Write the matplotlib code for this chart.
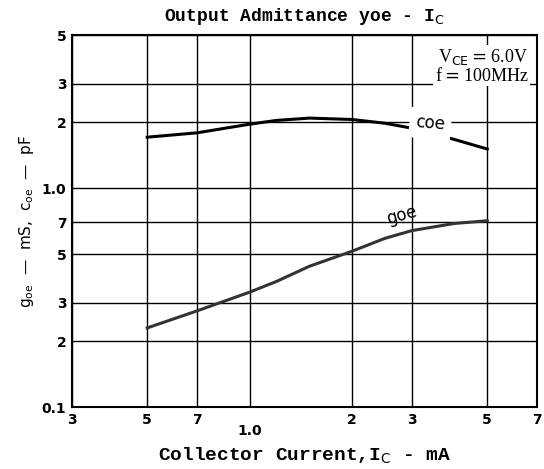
import matplotlib.pyplot as plt
from matplotlib.ticker import NullLocator

# collector current (mA) and curve values
ic = [0.5, 0.7, 1.0, 1.2, 1.5, 2.0, 2.5, 3.0, 4.0, 5.0]
coe = [1.71, 1.79, 1.96, 2.04, 2.09, 2.06, 1.98, 1.88, 1.67, 1.51]
goe = [0.23, 0.275, 0.335, 0.375, 0.44, 0.515, 0.59, 0.64, 0.69, 0.71]

xticks = [0.3, 0.5, 0.7, 1.0, 2, 3, 5, 7]
xlabels = ['3', '5', '7', '1.0', '2', '3', '5', '7']
yticks = [0.1, 0.2, 0.3, 0.5, 0.7, 1.0, 2, 3, 5]
ylabels = ['0.1', '2', '3', '5', '7', '1.0', '2', '3', '5']

mono = 'Liberation Mono'

fig = plt.figure(figsize=(5.44, 4.69), dpi=100)
ax = fig.add_axes([0.132, 0.132, 0.855, 0.793])
ax.set_xscale('log')
ax.set_yscale('log')
ax.set_xlim(0.3, 7)
ax.set_ylim(0.1, 5)

ax.set_xticks(xticks)
ax.set_xticklabels(xlabels, fontweight='bold', fontsize=10)
ax.set_yticks(yticks)
ax.set_yticklabels(ylabels, fontweight='bold', fontsize=10)
ax.xaxis.set_minor_locator(NullLocator())
ax.yaxis.set_minor_locator(NullLocator())
ax.tick_params(length=0, pad=4)
for lbl in ax.get_xticklabels():
    if lbl.get_text() == '1.0':
        lbl.set_y(-0.03)

ax.grid(True, color='black', linewidth=1.0)
for s in ax.spines.values():
    s.set_linewidth(1.5)

ax.plot(ic, coe, color='black', linewidth=2.2)
ax.plot(ic, goe, color='#333333', linewidth=2.2)

ax.text(3.4, 1.97, 'coe', fontsize=12, rotation=-5, ha='center', va='center',
        backgroundcolor='white')
ax.text(2.8, 0.75, 'goe', fontsize=12, rotation=15, ha='center', va='center')
ax.text(6.6, 4.4, 'V$_{\\rm CE}$$=$6.0V\nf$=$100MHz', family='Liberation Serif',
        fontsize=13, ha='right', va='top', linespacing=0.95,
        bbox=dict(facecolor='white', edgecolor='none', pad=1))

ax.set_title('Output Admittance yoe - I$_{\\rm C}$', family=mono, fontweight='bold',
             fontsize=13, pad=10)
ax.set_xlabel('Collector Current,I$_{\\rm C}$ - mA', family=mono, fontweight='bold',
              fontsize=14, labelpad=6)
ax.set_ylabel('g$_{\\rm oe}$  —  mS,  c$_{\\rm oe}$  —  pF', fontsize=11, labelpad=4)

fig.savefig('out.png', dpi=100)
